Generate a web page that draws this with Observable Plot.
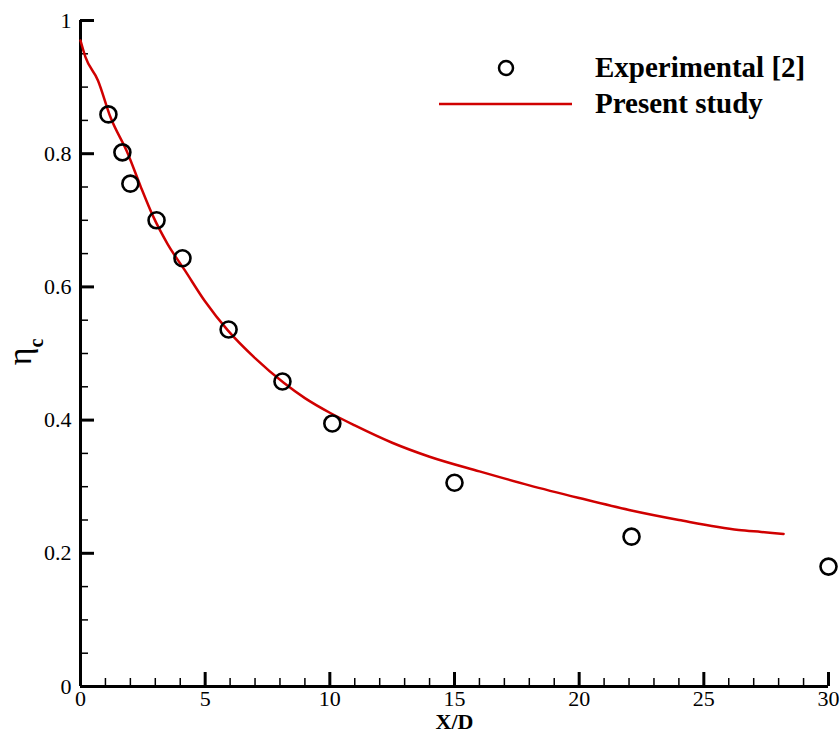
<!DOCTYPE html>
<html>
<head>
<meta charset="utf-8">
<script src="https://cdn.jsdelivr.net/npm/d3@7"></script>
<script src="https://cdn.jsdelivr.net/npm/@observablehq/plot@0.6"></script>
<style>
  html, body { margin: 0; padding: 0; background: #fff; }
  #chart { position: relative; width: 840px; height: 733px; }
  #chart svg, #chart svg text { font-family: "Liberation Serif", "Times New Roman", serif; }
</style>
</head>
<body>
<div id="chart"></div>
<script>
// Experimental data [2]
const expX = [1.12, 1.68, 2.0, 3.05, 4.09, 5.94, 8.1, 10.1, 15.0, 22.1, 30.0];
const expY = [0.859, 0.802, 0.755, 0.70, 0.643, 0.536, 0.458, 0.395, 0.306, 0.225, 0.18];

// Present study (simulation curve)
const lineX = [0, 0.2, 0.7, 1.2, 1.9, 2.4, 2.9, 3.5, 4.2, 5.0, 5.9, 7.0, 8.15, 9.0, 10.0, 11.0, 12.5, 14.0, 16.0, 18.0, 20.0, 22.0, 24.0, 26.4, 27.3, 28.2];
const lineY = [0.97, 0.945, 0.91, 0.855, 0.80, 0.752, 0.707, 0.664, 0.624, 0.578, 0.535, 0.493, 0.456, 0.433, 0.411, 0.392, 0.366, 0.345, 0.323, 0.302, 0.283, 0.265, 0.25, 0.235, 0.232, 0.229];

// Axis ticks
const majorX = [0, 5, 10, 15, 20, 25, 30];
const minorX = d3.range(0, 31, 1).filter(v => v % 5 !== 0);
const majorY = [0, 0.2, 0.4, 0.6, 0.8, 1];
const minorY = [0.05,0.1,0.15,0.25,0.3,0.35,0.45,0.5,0.55,0.65,0.7,0.75,0.85,0.9,0.95];

const xLabel = "X/D";
const legendLabels = ["Experimental [2]", "Present study"];

const expData = expX.map((x, i) => ({x, y: expY[i]}));
const lineData = lineX.map((x, i) => ({x, y: lineY[i]}));

const W = 840, H = 733, mL = 80, mT = 20, mR = 12, mB = 47;
const pw = W - mL - mR, ph = H - mT - mB;
const red = "#d00000";
const serif = "Liberation Serif, Times New Roman, serif";

const plot = Plot.plot({
  width: W, height: H,
  marginLeft: mL, marginTop: mT, marginRight: mR, marginBottom: mB,
  style: {fontFamily: serif, fontSize: "22px", color: "#000", background: "#fff", overflow: "visible"},
  x: {domain: [0, 30], axis: null},
  y: {domain: [0, 1], axis: null},
  marks: [
    Plot.ruleY(minorY, {stroke: "#000", strokeWidth: 1.5, insetRight: pw - 8}),
    Plot.ruleY(majorY, {stroke: "#000", strokeWidth: 3, insetRight: pw - 14}),
    Plot.ruleX(minorX, {stroke: "#000", strokeWidth: 1.5, insetTop: ph - 8}),
    Plot.ruleX(majorX, {stroke: "#000", strokeWidth: 3, insetTop: ph - 14}),
    Plot.ruleX([0], {stroke: "#000", strokeWidth: 3}),
    Plot.ruleY([0], {stroke: "#000", strokeWidth: 3}),
    Plot.axisX(majorX, {tickSize: 0, tickPadding: 4, label: null, fontSize: 22, fontFamily: serif, tickFormat: d => String(d)}),
    Plot.axisY(majorY, {tickSize: 0, tickPadding: 9, label: null, fontSize: 22, fontFamily: serif, tickFormat: d => String(d)}),
    Plot.line(lineData, {x: "x", y: "y", stroke: red, strokeWidth: 2.5, curve: "monotone-x"}),
    Plot.dot(expData, {x: "x", y: "y", r: 8, stroke: "#000", strokeWidth: 2.6, fill: "none"}),
    Plot.text([xLabel], {frameAnchor: "bottom", dy: 42.5, text: d => d, fontWeight: "bold", fontSize: 22, fontFamily: serif, lineAnchor: "bottom"})
  ]
});
document.getElementById("chart").appendChild(plot);

const svg = d3.select(plot);
// y-axis title: eta with subscript c
const yt = svg.append("text")
  .attr("transform", "translate(31,352) rotate(-90)")
  .attr("text-anchor", "middle")
  .attr("font-family", serif)
  .attr("fill", "#000");
yt.append("tspan").attr("font-size", 34).text("η");
yt.append("tspan").attr("font-size", 20).attr("font-weight", "bold").attr("dy", 12).text("c");

// legend
const lg = svg.append("g").attr("font-family", serif).attr("text-anchor", "start")
  .attr("font-weight", "bold").attr("font-size", 29).attr("fill", "#000");
lg.append("circle").attr("cx", 506).attr("cy", 68).attr("r", 7).attr("fill", "none").attr("stroke", "#000").attr("stroke-width", 2.5);
lg.append("line").attr("x1", 439).attr("x2", 572).attr("y1", 104).attr("y2", 104).attr("stroke", red).attr("stroke-width", 2.5);
lg.append("text").attr("x", 595).attr("y", 77).text(legendLabels[0]);
lg.append("text").attr("x", 595).attr("y", 113).text(legendLabels[1]);
</script>
</body>
</html>
